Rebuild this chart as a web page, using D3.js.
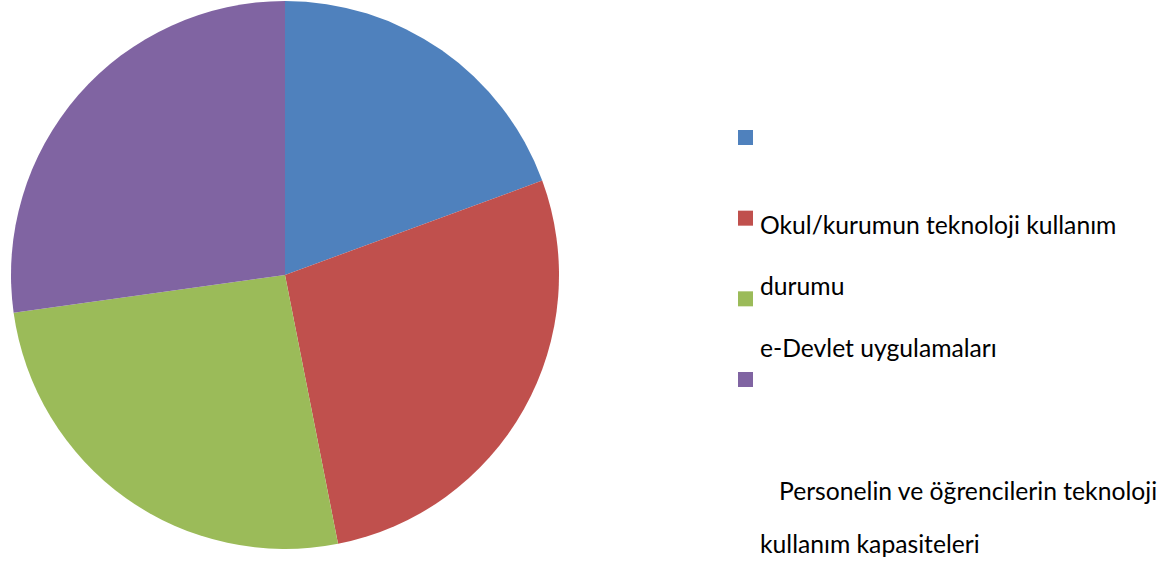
<!DOCTYPE html>
<html lang="tr">
<head>
<meta charset="UTF-8">
<title>pie chart</title>
<script src="https://cdn.jsdelivr.net/npm/d3@7"></script>
<style>
    body{ margin:0; background:#fff; }
    text{ font-family: Lato, "Open Sans", sans-serif; fill:#000; }
</style>
</head>
<body>
<svg id="chart" width="1162" height="564"></svg>
<script>
    // slice data (percent)
    let categories = ["", "Okul/kurumun teknoloji kullanım durumu", "e-Devlet uygulamaları",
                      "Personelin ve öğrencilerin teknoloji kullanım kapasiteleri"]
    let values = [19.4, 27.5, 25.9, 27.2]
    let colors = ["#4f81bd", "#c0504d", "#9bbb59", "#8064a2"]
    // legend text as it is wrapped in the picture
    let legendLines = ["Okul/kurumun teknoloji kullanım", "durumu", "e-Devlet uygulamaları",
                       "Personelin ve öğrencilerin teknoloji", "kullanım kapasiteleri"]

    let svg = d3.select("#chart")

    // pie
    let cx = 285, cy = 275, r = 274
    let pie = d3.pie().sort(null).value(d => d)
    let arc = d3.arc().innerRadius(0).outerRadius(r)

    svg.append("g")
        .attr("transform", `translate(${cx},${cy})`)
        .selectAll("path")
        .data(pie(values))
        .join("path")
        .attr("d", arc)
        .attr("fill", (d, i) => colors[i])

    // legend keys
    let keyY = d3.scaleLinear().domain([0, 3]).range([130, 372])
    svg.append("g")
        .selectAll("rect")
        .data(categories)
        .join("rect")
        .attr("x", 738)
        .attr("y", (d, i) => keyY(i))
        .attr("width", 15)
        .attr("height", 15)
        .attr("fill", (d, i) => colors[i])

    // legend text (wrapped lines sit apart from their keys)
    let lineX = [760, 760, 760, 779, 760]
    let lineY = [233.5, 295, 357, 500, 553]
    svg.append("g")
        .selectAll("text")
        .data(legendLines)
        .join("text")
        .attr("x", (d, i) => lineX[i])
        .attr("y", (d, i) => lineY[i])
        .attr("font-size", 24.7)
        .text(d => d)
</script>
</body>
</html>
